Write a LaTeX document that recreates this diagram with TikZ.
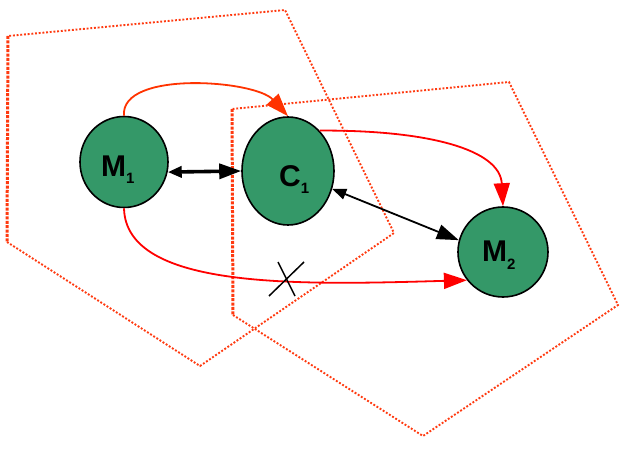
\documentclass[tikz,border=0pt]{standalone}
\usepackage{fontspec}
\setsansfont{Liberation Sans}
\usetikzlibrary{arrows.meta,shapes.geometric}
\definecolor{cellgreen}{HTML}{349868}
\definecolor{zonered}{HTML}{FF3A10}
\definecolor{linkorange}{HTML}{FF3300}
\newcommand{\cellname}[2]{#1\raisebox{-7pt}{\fontsize{15}{15}\selectfont #2}}

\begin{document}
\begin{tikzpicture}[x=1pt, y=-1pt,
		cell/.style={ellipse, draw=black, line width=1.6pt, fill=cellgreen, inner sep=0pt},
		cellname/.style={font=\sffamily\bfseries\fontsize{30}{30}\selectfont, inner sep=0pt},
		zone/.style={zonered, line width=1.9pt, dash pattern=on 1.9pt off 1.8pt},
		zoneside/.style={zonered, line width=3pt, dash pattern=on 3pt off 1.4pt},
		link/.style={red, line width=1.8pt, -{Triangle[length=23pt,width=16pt]}},
		ack/.style={black, line width=1.8pt, {Triangle[length=14pt,width=11pt]}-{Triangle[length=22pt,width=15pt]}}]
			\useasboundingbox (0,0) rectangle (629,454);

			% Zones
			\draw[zone] (7,242) -- (200,366) -- (394,233) -- (285,10) -- (8,36);
			\draw[zoneside] (8,36) -- (7,242);
			\draw[zone] (233,315) -- (423,436) -- (618,305) -- (509,82) -- (232,109);
			\draw[zoneside] (232,109) -- (233,315);

			% Cells
			\node[cell, minimum width=88pt, minimum height=91pt] (m1) at (124,162) {};
			\node[cell, minimum width=92pt, minimum height=108pt] (c1) at (288,171) {};
			\node[cell, minimum width=90pt, minimum height=90pt] (m2) at (503,252) {};
			\node[cellname, anchor=base west] (m1t) at (101,177) {\cellname{M}{1}};
			\node[cellname, anchor=base west] (c1t) at (279,187) {\cellname{C}{1}};
			\node[cellname, anchor=base west] (m2t) at (482,262) {\cellname{M}{2}};

			% Links
			\draw[link, linkorange] (m1.north) .. controls (120,70) and (255,80) .. (c1.north);
			\draw[link] (c1.52) .. controls (430,130) and (500,150) .. (m2.north);
			\draw[link] (m1.south) .. controls (126,290) and (300,285) .. (m2.218);
			\draw[ack, line width=3.6pt] (m1.-13) -- (c1.west);
			\draw[ack] (c1.-22) -- (m2.165);

			% Cut mark
			\coordinate (cut) at (286,279);
			\draw[line width=1.5pt] ([shift={(-17,17)}]cut) -- ([shift={(18,-17)}]cut);
			\draw[line width=1.5pt] ([shift={(-8,-17)}]cut) -- ([shift={(9,17)}]cut);
		\end{tikzpicture}
\end{document}
